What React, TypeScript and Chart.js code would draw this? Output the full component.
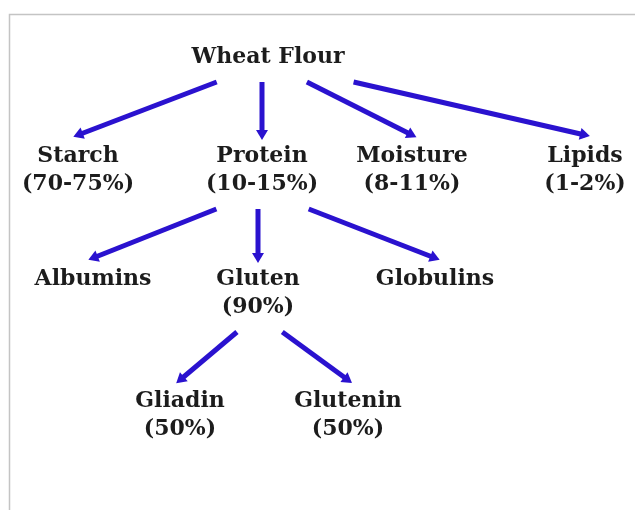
import React, { useEffect, useRef } from "react";
import { Chart, registerables } from "chart.js";

Chart.register(...registerables);

// Tree nodes (layout units: x across, y down)
const nodeNames = ["Wheat Flour", "Starch", "Protein", "Moisture", "Lipids", "Albumins", "Gluten", "Globulins", "Gliadin", "Glutenin"];
const nodeShares = ["", "(70-75%)", "(10-15%)", "(8-11%)", "(1-2%)", "", "(90%)", "", "(50%)", "(50%)"];
const nodeX = [268, 78, 262, 412, 585, 93, 258, 435, 180, 348];
const nodeY = [57, 156, 156, 156, 156, 279, 279, 279, 401, 401];
const nodeParent = [-1, 0, 0, 0, 0, 2, 2, 2, 6, 6];

const BLUE = "#2a12cf";
const TEXT = "#1c1c1c";
const FONT = "'DejaVu Serif', serif";
const LINE_GAP = 28;
const HEAD = 10;

type Edge = { from: number; to: number };
const edges: Edge[] = nodeParent
  .map((p, i) => ({ from: p, to: i }))
  .filter((e) => e.from >= 0);

function edgePoints(e: Edge) {
  const px = nodeX[e.from];
  const py = nodeY[e.from] + (nodeShares[e.from] ? LINE_GAP : 0) + 25;
  const cx = nodeX[e.to];
  const dx = cx - px;
  const sx = Math.abs(dx) < 15 ? cx : px + 0.27 * dx;
  const tipY = nodeY[e.to] - 21;
  return { sx, sy: py, ex: cx, ey: tipY };
}

const treePlugin = {
  id: "treePlugin",
  beforeDraw(chart: any) {
    const ctx = chart.ctx;
    ctx.save();
    ctx.fillStyle = "#ffffff";
    ctx.fillRect(0, 0, chart.width, chart.height);
    ctx.strokeStyle = "#c4c4c4";
    ctx.lineWidth = 1.5;
    ctx.beginPath();
    ctx.moveTo(9.5, chart.height);
    ctx.lineTo(9.5, 14.5);
    ctx.lineTo(chart.width, 14.5);
    ctx.stroke();
    ctx.restore();
  },
  afterDatasetsDraw(chart: any) {
    const ctx = chart.ctx;
    const xs = chart.scales.x;
    const ys = chart.scales.y;
    ctx.save();
    // arrow heads
    edges.forEach((e, i) => {
      const meta = chart.getDatasetMeta(i);
      const a = meta.data[0];
      const b = meta.data[1];
      const ang = Math.atan2(b.y - a.y, b.x - a.x);
      const tipX = b.x + Math.cos(ang) * HEAD * 0.5;
      const tipY = b.y + Math.sin(ang) * HEAD * 0.5;
      const bx = tipX - Math.cos(ang) * HEAD;
      const by = tipY - Math.sin(ang) * HEAD;
      const w = 6;
      ctx.fillStyle = BLUE;
      ctx.beginPath();
      ctx.moveTo(tipX, tipY);
      ctx.lineTo(bx + Math.sin(ang) * w, by - Math.cos(ang) * w);
      ctx.lineTo(bx - Math.sin(ang) * w, by + Math.cos(ang) * w);
      ctx.closePath();
      ctx.fill();
    });
    // labels
    ctx.fillStyle = TEXT;
    ctx.textAlign = "center";
    ctx.textBaseline = "middle";
    nodeNames.forEach((name, i) => {
      const x = xs.getPixelForValue(nodeX[i]);
      const y = ys.getPixelForValue(nodeY[i]);
      ctx.font = `bold 22px ${FONT}`;
      ctx.fillText(name, x, y);
      if (nodeShares[i]) {
        ctx.fillText(nodeShares[i], x, ys.getPixelForValue(nodeY[i] + LINE_GAP));
      }
    });
    ctx.restore();
  },
};

export default function App() {
  const ref = useRef<HTMLCanvasElement | null>(null);
  useEffect(() => {
    document.body.style.margin = "0";
    const datasets: any[] = edges.map((e) => {
      const p = edgePoints(e);
      return {
        data: [
          { x: p.sx, y: p.sy },
          { x: p.ex, y: p.ey },
        ],
        showLine: true,
        borderColor: BLUE,
        borderWidth: 5,
        pointRadius: 0,
        borderCapStyle: "butt",
      };
    });
    datasets.push({
      data: nodeX.map((x, i) => ({ x, y: nodeY[i] })),
      pointRadius: 0,
      showLine: false,
    });
    const chart = new Chart(ref.current as HTMLCanvasElement, {
      type: "scatter",
      data: { datasets },
      options: {
        animation: false,
        responsive: false,
        layout: { padding: 0 },
        plugins: { legend: { display: false }, tooltip: { enabled: false } },
        scales: {
          x: { type: "linear", min: 0, max: 635, display: false },
          y: { type: "linear", min: 0, max: 510, reverse: true, display: false },
        },
      },
      plugins: [treePlugin],
    });
    return () => chart.destroy();
  }, []);
  return (
    <div style={{ width: 635, height: 510 }}>
      <canvas ref={ref} width={635} height={510} style={{ display: "block" }} />
    </div>
  );
}
